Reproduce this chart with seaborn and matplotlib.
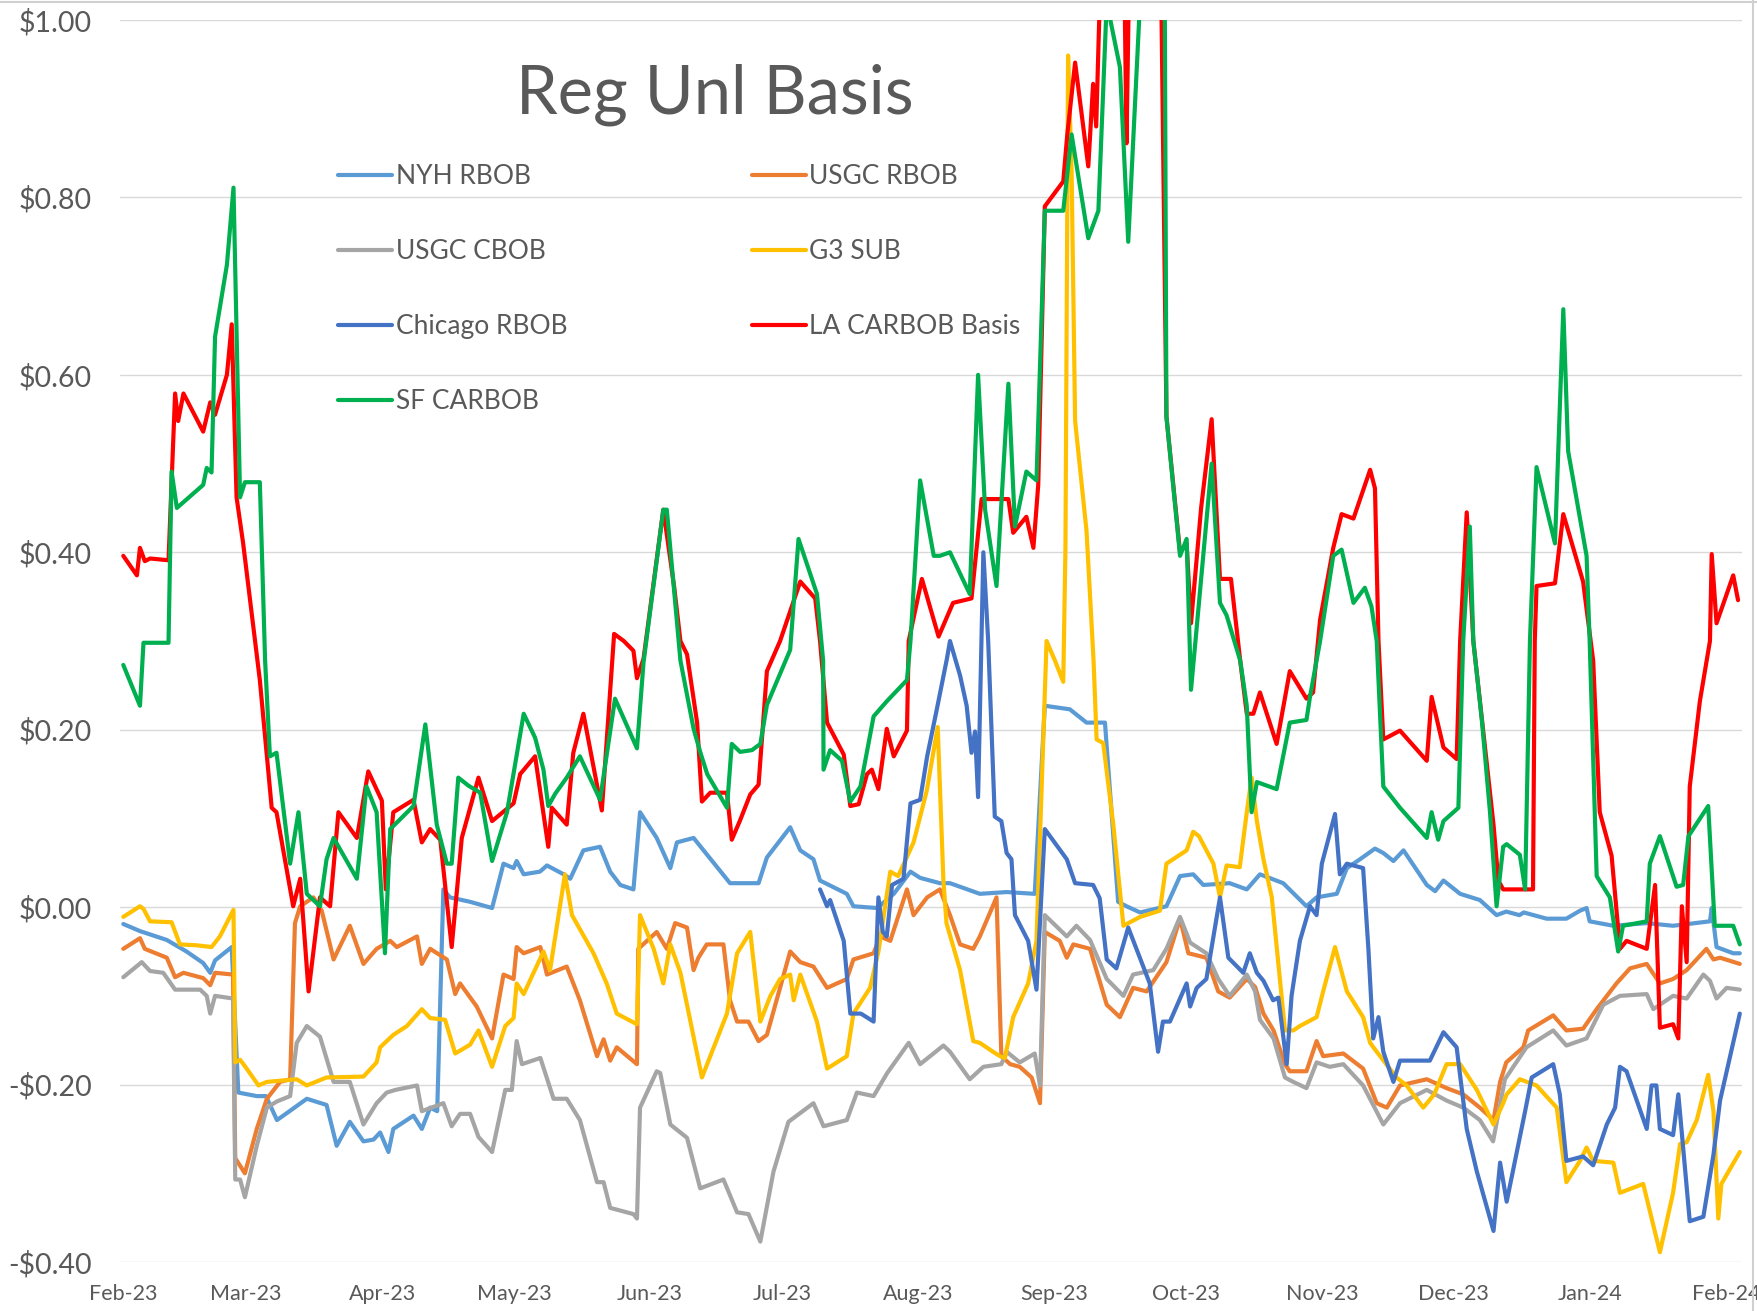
import numpy as np
import pandas as pd
import matplotlib
matplotlib.use("Agg")
import matplotlib.pyplot as plt
import matplotlib.dates as mdates
from matplotlib.lines import Line2D
from matplotlib.ticker import FuncFormatter
import seaborn as sns

START = "2023-02-01"
series_names = ["NYH RBOB", "USGC RBOB", "USGC CBOB", "G3 SUB",
                "Chicago RBOB", "LA CARBOB Basis", "SF CARBOB"]
series_colors = ["#5B9BD5", "#ED7D31", "#A5A5A5", "#FFC000",
                 "#4472C4", "#FF0000", "#00B050"]
title_text = "Reg Unl Basis"

# days since 2023-02-01 / basis value in $/gal
nyh_days = [0, 3.8, 9.9, 14.4, 18.2, 19.8, 20.9, 24.7, 26.2, 30.4,
            32.5, 35, 37.3, 41.8, 46.3, 48.6, 51.6, 54.7, 57, 58.5,
            60.4, 61.5, 66.1, 68, 69.9, 71.5, 72.9, 74.4, 79, 84,
            86.6, 88.9, 89.6, 91.2, 94.9, 96.5, 100.3, 101.8, 104.8, 108.6,
            110.9, 113.2, 116.2, 117.7, 121.5, 124.6, 126.1, 129.9, 138.2, 144.7,
            146.6, 151.9, 154.2, 157.2, 158.7, 164.8, 166.3, 171.7, 175.5, 179.3,
            181.5, 186, 188.3, 195.1, 201.2, 207.6, 209.9, 215.6, 219.4, 223.6,
            226.6, 228.5, 231.6, 237.6, 240.7, 243.7, 246, 252, 255.9, 258.9,
            264.2, 269.5, 271.8, 276.4, 278.7, 281.7, 285.1, 287, 289.3, 291.6,
            296.9, 298.8, 300.7, 304.5, 309, 312.8, 315, 318, 319, 324.2,
            328.7, 331.8, 333.3, 334, 339.4, 347, 353, 361.4, 361.8, 362.9,
            366.7, 368.2]
nyh_vals = [-0.019, -0.027, -0.037, -0.050, -0.063, -0.074, -0.060, -0.045, -0.209, -0.213,
            -0.213, -0.240, -0.232, -0.216, -0.223, -0.269, -0.242, -0.264, -0.262, -0.254,
            -0.276, -0.250, -0.235, -0.250, -0.226, -0.230, 0.020, 0.011, 0.006, -0.001,
            0.049, 0.044, 0.052, 0.037, 0.040, 0.047, 0.037, 0.032, 0.064, 0.068,
            0.040, 0.025, 0.020, 0.107, 0.078, 0.044, 0.073, 0.078, 0.027, 0.027,
            0.056, 0.090, 0.064, 0.054, 0.030, 0.015, 0.001, -0.001, 0.015, 0.040,
            0.033, 0.027, 0.027, 0.015, 0.017, 0.015, 0.227, 0.223, 0.208, 0.208,
            0.006, 0.001, -0.006, 0.001, 0.035, 0.037, 0.025, 0.027, 0.020, 0.037,
            0.027, 0.001, 0.011, 0.015, 0.044, 0.054, 0.066, 0.061, 0.052, 0.064,
            0.025, 0.018, 0.030, 0.015, 0.008, -0.009, -0.005, -0.009, -0.006, -0.013,
            -0.013, -0.004, -0.001, -0.016, -0.021, -0.018, -0.021, -0.016, -0.001, -0.045,
            -0.052, -0.052]

usgc_rbob_days = [0, 3.8, 4.9, 9.9, 11.8, 13.7, 18.2, 19.8, 20.9, 25,
                  25.5, 27.7, 30.4, 32.7, 35.7, 38, 39.1, 40.3, 43.3, 45.2,
                  47.9, 51.6, 54.7, 57.7, 60.8, 62.3, 66.9, 68, 69.9, 73.7,
                  75.6, 76.7, 80.5, 84, 86.6, 88.9, 89.6, 91.2, 95, 96.5,
                  101, 104, 107.9, 109.4, 110.9, 112.4, 117, 117.3, 121.5, 123.8,
                  125.7, 128.4, 129.9, 131, 132.9, 136.7, 138.2, 139.8, 142.4, 144.7,
                  146.6, 151.9, 154.2, 157.2, 160.3, 164.8, 166.3, 170.9, 172.4, 174.7,
                  178.5, 180, 183.1, 186, 188.3, 190.6, 193.6, 195.1, 198.9, 200,
                  202, 204.2, 206.9, 208.8, 209.9, 213.3, 214.9, 216.4, 220.2, 224,
                  227, 230, 233.1, 237.6, 240.7, 242.6, 246.7, 249.4, 252, 255.9,
                  257.8, 259.7, 262, 264.6, 265.7, 269.5, 271.8, 273.3, 277.9, 282.4,
                  285.5, 287.8, 290.8, 296.9, 301.4, 305.2, 309, 312.1, 313.6, 315,
                  318.9, 320, 325.7, 328.7, 332.5, 335.6, 340.1, 343.2, 347, 350,
                  353, 356.1, 360.6, 362.2, 363.7, 368.2]
usgc_rbob_vals = [-0.047, -0.035, -0.047, -0.057, -0.079, -0.074, -0.080, -0.088, -0.074, -0.076,
                  -0.283, -0.300, -0.250, -0.216, -0.197, -0.194, -0.018, 0.001, 0.011, -0.004,
                  -0.059, -0.021, -0.064, -0.047, -0.038, -0.045, -0.033, -0.064, -0.047, -0.059,
                  -0.098, -0.086, -0.112, -0.148, -0.076, -0.081, -0.045, -0.052, -0.045, -0.076,
                  -0.067, -0.105, -0.168, -0.149, -0.173, -0.158, -0.177, -0.047, -0.028, -0.047,
                  -0.018, -0.023, -0.071, -0.057, -0.042, -0.042, -0.105, -0.129, -0.129, -0.151,
                  -0.144, -0.050, -0.062, -0.067, -0.091, -0.081, -0.059, -0.052, -0.033, -0.038,
                  0.020, -0.009, 0.011, 0.020, -0.009, -0.042, -0.047, -0.033, 0.011, -0.168,
                  -0.177, -0.180, -0.192, -0.221, -0.028, -0.038, -0.057, -0.042, -0.047, -0.110,
                  -0.124, -0.091, -0.095, -0.062, -0.013, -0.052, -0.057, -0.095, -0.102, -0.081,
                  -0.090, -0.120, -0.139, -0.177, -0.185, -0.185, -0.151, -0.168, -0.165, -0.182,
                  -0.221, -0.226, -0.201, -0.194, -0.204, -0.211, -0.226, -0.240, -0.197, -0.175,
                  -0.158, -0.139, -0.122, -0.139, -0.137, -0.115, -0.086, -0.069, -0.064, -0.086,
                  -0.081, -0.071, -0.047, -0.059, -0.057, -0.064]

usgc_cbob_days = [0, 4.2, 6.1, 9.1, 11.8, 17.5, 19, 19.8, 20.9, 25,
                  25.5, 26.6, 27.7, 30.4, 32.7, 35, 38, 39.5, 41.8, 44.8,
                  47.9, 51.6, 54.7, 57.7, 60, 62, 66.9, 68, 72.9, 74.8,
                  76.7, 79, 80.9, 84, 87, 88.5, 89.6, 90.8, 95, 98,
                  101, 104, 107.9, 109.4, 110.9, 116.2, 117, 117.7, 121.5, 122.3,
                  124.6, 128.4, 131.4, 136.7, 139.8, 142.4, 145.1, 148.1, 151.5, 157.2,
                  159.5, 164.8, 167.1, 170.9, 174, 178.9, 181.5, 186.8, 188.3, 192.8,
                  195.9, 200, 201.2, 204.2, 207.6, 208.8, 209.9, 214.9, 217.1, 220.2,
                  224, 227.8, 230, 234.6, 237.6, 240.7, 243, 246.7, 249.4, 252,
                  255.9, 257.8, 258.9, 262, 264.6, 266.5, 269.5, 271.8, 274.8, 277.9,
                  282.4, 287, 290.8, 296.9, 301.4, 305.2, 309, 312, 314.7, 319.6,
                  325.7, 328.7, 333.3, 337.1, 340.9, 347, 348.5, 353, 356.1, 359.9,
                  361.4, 362.9, 365.2, 368.2]
usgc_cbob_vals = [-0.079, -0.062, -0.072, -0.074, -0.093, -0.093, -0.100, -0.120, -0.100, -0.103,
                  -0.307, -0.307, -0.327, -0.269, -0.226, -0.219, -0.213, -0.153, -0.134, -0.146,
                  -0.197, -0.197, -0.245, -0.221, -0.209, -0.206, -0.201, -0.230, -0.221, -0.247,
                  -0.233, -0.233, -0.259, -0.276, -0.206, -0.206, -0.151, -0.177, -0.170, -0.216,
                  -0.216, -0.240, -0.310, -0.310, -0.339, -0.346, -0.351, -0.226, -0.185, -0.187,
                  -0.245, -0.260, -0.317, -0.307, -0.344, -0.346, -0.377, -0.298, -0.242, -0.221,
                  -0.247, -0.240, -0.209, -0.213, -0.187, -0.153, -0.177, -0.156, -0.163, -0.194,
                  -0.180, -0.177, -0.163, -0.175, -0.165, -0.201, -0.009, -0.033, -0.021, -0.037,
                  -0.081, -0.100, -0.076, -0.071, -0.047, -0.011, -0.040, -0.052, -0.081, -0.100,
                  -0.076, -0.095, -0.127, -0.148, -0.192, -0.197, -0.204, -0.175, -0.180, -0.177,
                  -0.201, -0.245, -0.221, -0.206, -0.218, -0.226, -0.240, -0.264, -0.194, -0.158,
                  -0.139, -0.156, -0.148, -0.110, -0.100, -0.098, -0.115, -0.100, -0.103, -0.076,
                  -0.083, -0.103, -0.091, -0.093]

g3_days = [0, 3.8, 4.6, 6.1, 11, 12.9, 16.7, 20.1, 22, 25.1,
           25.5, 26.6, 28.1, 30.8, 32.7, 39.5, 41.8, 46.3, 54.7, 57.7,
           58.5, 61.5, 64.6, 68, 69.9, 73.3, 75.6, 79, 80.9, 84,
           87, 88.9, 89.6, 91.2, 95.7, 97.2, 100.6, 102.2, 107.1, 110.1,
           112.4, 117, 117.7, 120.8, 123, 124.6, 126.9, 131.8, 137.5, 139.8,
           142.8, 145.1, 147.4, 149.6, 151.9, 152.7, 154.2, 158, 160.3, 164.8,
           166.3, 170.1, 172, 174.7, 176.5, 180, 183, 185.5, 186.8, 187.5,
           190.6, 193.6, 195.1, 198.1, 199.7, 200.8, 202.7, 206.1, 208, 210.3,
           212.2, 214.1, 214.6, 215.2, 216, 216.8, 219.4, 221, 221.7, 223.2,
           225.5, 227.8, 231.6, 236.1, 237.6, 242.2, 243.7, 245, 248.3, 249.8,
           251.3, 254.3, 255.9, 257, 258.2, 259.7, 261.6, 264.6, 266.5, 268,
           271.8, 273.3, 276, 278.7, 282.4, 284, 285.5, 290, 292.3, 296.1,
           298.6, 301.4, 304.5, 308.3, 312.1, 314.3, 315.1, 318.1, 321.9, 326.5,
           328.7, 331.8, 333.3, 334.8, 339.4, 340.9, 346.2, 350, 353, 354.6,
           356.1, 358.4, 361, 362.2, 363.3, 364, 368.2]
g3_vals = [-0.011, 0.001, -0.002, -0.016, -0.017, -0.042, -0.043, -0.045, -0.033, -0.003,
           -0.175, -0.172, -0.182, -0.201, -0.197, -0.194, -0.201, -0.192, -0.191, -0.175,
           -0.158, -0.144, -0.134, -0.115, -0.125, -0.127, -0.165, -0.155, -0.139, -0.180,
           -0.134, -0.125, -0.086, -0.098, -0.050, -0.071, 0.037, -0.009, -0.052, -0.086,
           -0.120, -0.132, -0.009, -0.047, -0.086, -0.042, -0.074, -0.192, -0.120, -0.052,
           -0.028, -0.129, -0.100, -0.081, -0.076, -0.105, -0.076, -0.129, -0.182, -0.168,
           -0.120, -0.091, -0.050, 0.040, 0.035, 0.073, 0.131, 0.203, 0.030, -0.018,
           -0.071, -0.151, -0.153, -0.163, -0.168, -0.170, -0.124, -0.086, -0.038, 0.300,
           0.278, 0.254, 0.405, 0.960, 0.830, 0.548, 0.424, 0.278, 0.189, 0.185,
           0.093, -0.021, -0.011, -0.004, 0.049, 0.064, 0.085, 0.080, 0.049, 0.011,
           0.047, 0.045, 0.107, 0.146, 0.097, 0.054, 0.011, -0.139, -0.139, -0.134,
           -0.124, -0.095, -0.045, -0.095, -0.124, -0.153, -0.163, -0.192, -0.201, -0.226,
           -0.211, -0.177, -0.177, -0.206, -0.245, -0.221, -0.211, -0.194, -0.201, -0.226,
           -0.310, -0.286, -0.271, -0.286, -0.288, -0.322, -0.312, -0.389, -0.322, -0.267,
           -0.265, -0.240, -0.189, -0.230, -0.351, -0.312, -0.276]

chicago_days = [158.7, 160.3, 161, 164.1, 165.6, 168, 170.9, 172, 173, 173.9,
                175.1, 177.7, 179.3, 181.5, 183.1, 185.3, 187.6, 188.3, 190.6, 192.1,
                193.2, 194, 194.7, 195.9, 197, 198.5, 200, 201.2, 202.3, 203.1,
                206.1, 208, 209.9, 214.9, 216.8, 220.9, 222.4, 224, 226.2, 228.9,
                233.8, 235.7, 236.8, 238.4, 242.2, 243, 244.5, 246.7, 249.8, 251.7,
                255.1, 256.6, 258.2, 259.7, 261.9, 263.1, 265, 266.1, 268, 270.3,
                271.8, 273, 276, 277.1, 278.7, 282.4, 283.6, 284.7, 285.9, 287,
                289.3, 290.8, 297.6, 300.7, 303.7, 306, 308.3, 312.1, 313.6, 315.1,
                319.3, 320.8, 325.7, 327.2, 328.7, 332.5, 334.8, 337.9, 339.8, 340.9,
                342.4, 347, 348.1, 349.2, 350, 353, 354.2, 356.8, 359.9, 362.2,
                363.7, 368.2]
chicago_vals = [0.020, 0.001, 0.008, -0.038, -0.120, -0.120, -0.129, 0.011, -0.028, -0.033,
                0.025, 0.032, 0.117, 0.121, 0.170, 0.223, 0.280, 0.300, 0.261, 0.227,
                0.174, 0.198, 0.124, 0.400, 0.300, 0.102, 0.097, 0.061, 0.054, -0.009,
                -0.038, -0.093, 0.088, 0.054, 0.027, 0.025, 0.010, -0.059, -0.069, -0.023,
                -0.086, -0.163, -0.129, -0.129, -0.086, -0.112, -0.091, -0.081, 0.011, -0.057,
                -0.074, -0.052, -0.074, -0.083, -0.105, -0.102, -0.177, -0.100, -0.038, 0.001,
                -0.009, 0.049, 0.105, 0.037, 0.049, 0.044, -0.047, -0.148, -0.124, -0.163,
                -0.197, -0.173, -0.173, -0.141, -0.158, -0.250, -0.298, -0.365, -0.288, -0.332,
                -0.230, -0.192, -0.177, -0.211, -0.286, -0.281, -0.291, -0.245, -0.226, -0.180,
                -0.185, -0.250, -0.201, -0.201, -0.250, -0.257, -0.211, -0.354, -0.349, -0.279,
                -0.218, -0.120]

la_days = [0, 3.1, 3.8, 4.9, 6.1, 10.3, 11.8, 12.5, 13.7, 18.2,
           19.8, 20.9, 23.6, 24.7, 25.8, 27.3, 31.1, 33.8, 34.9, 38.7,
           40.3, 42.2, 44.8, 47.1, 49, 53.2, 55.8, 58.9, 59.8, 61.5,
           66.1, 68, 69.9, 72.2, 74.8, 77.1, 80.9, 84, 88.9, 90.4,
           93.8, 96.8, 97.6, 101, 102.5, 104.8, 109, 111.8, 114, 116.2,
           117, 118.5, 123, 125.5, 126.9, 128.4, 130.7, 131.8, 133.7, 137.5,
           138.6, 140.5, 142.8, 144.7, 146.6, 149.6, 154.2, 157.6, 158.7, 160.3,
           164.1, 165.6, 167.5, 169.4, 170.5, 172, 173.9, 175.5, 178.5, 178.9,
           181.9, 185.7, 189, 193.2, 195.5, 201.6, 202.7, 205.7, 207.3, 208.4,
           209.9, 214.1, 215, 216.8, 219.8, 220.9, 221.6, 222.4, 225, 228.1,
           228.5, 229.1, 231, 236, 237.6, 240.7, 242.2, 243.2, 245.5, 247.9,
           249.8, 252.3, 254.4, 255.9, 257.4, 258.9, 262.7, 265.7, 269.5, 271,
           272.6, 275.6, 277.5, 280.2, 284, 285.1, 285.9, 287, 290.8, 296.9,
           298, 300.7, 303.7, 304.5, 306, 307.5, 312.1, 313.2, 314.3, 321.1,
           321.5, 321.9, 326.1, 328, 332.5, 334.8, 336.3, 339, 340.9, 342.4,
           347, 348.9, 350, 353, 354.2, 355, 356.1, 356.8, 359.1, 361.4,
           361.8, 362.9, 366.7, 367.8]
la_vals = [0.396, 0.374, 0.405, 0.390, 0.393, 0.391, 0.579, 0.548, 0.579, 0.536,
           0.569, 0.555, 0.600, 0.657, 0.462, 0.410, 0.256, 0.112, 0.107, 0.001,
           0.032, -0.095, 0.011, 0.001, 0.107, 0.078, 0.153, 0.120, 0.020, 0.107,
           0.121, 0.073, 0.088, 0.076, -0.045, 0.078, 0.146, 0.097, 0.117, 0.150,
           0.170, 0.068, 0.112, 0.093, 0.174, 0.218, 0.109, 0.308, 0.300, 0.289,
           0.258, 0.280, 0.448, 0.360, 0.300, 0.285, 0.208, 0.119, 0.129, 0.129,
           0.076, 0.098, 0.127, 0.138, 0.266, 0.300, 0.367, 0.348, 0.300, 0.208,
           0.172, 0.114, 0.116, 0.150, 0.155, 0.133, 0.201, 0.170, 0.199, 0.300,
           0.370, 0.305, 0.343, 0.348, 0.460, 0.460, 0.422, 0.440, 0.405, 0.476,
           0.790, 0.818, 0.870, 0.952, 0.835, 0.928, 0.880, 1.020, 1.100, 1.020,
           0.861, 1.050, 1.200, 1.200, 0.553, 0.400, 0.410, 0.320, 0.450, 0.550,
           0.370, 0.370, 0.278, 0.218, 0.218, 0.242, 0.184, 0.266, 0.235, 0.242,
           0.324, 0.405, 0.443, 0.438, 0.493, 0.472, 0.300, 0.189, 0.199, 0.165,
           0.237, 0.180, 0.167, 0.300, 0.445, 0.300, 0.093, 0.030, 0.020, 0.020,
           0.300, 0.362, 0.365, 0.443, 0.367, 0.278, 0.107, 0.058, -0.047, -0.038,
           -0.047, 0.025, -0.136, -0.132, -0.148, 0.001, -0.062, 0.136, 0.232, 0.300,
           0.398, 0.320, 0.374, 0.346]

sf_days = [0, 3.8, 4.6, 10.3, 11, 12.2, 18.2, 19, 20.1, 20.9,
           23.6, 25.1, 26.6, 27.7, 31.1, 32.3, 33.4, 34.9, 38, 39.9,
           41.8, 44.8, 46.3, 47.9, 53.2, 55.4, 57.7, 59.6, 60.8, 66.1,
           68.8, 71.4, 73.7, 74.8, 76.3, 78.6, 81.3, 84, 87.4, 91.2,
           93.8, 95.7, 96.8, 98.4, 101, 104, 108.6, 112, 117, 118.5,
           123, 123.8, 126.9, 129.9, 131.4, 133, 137.5, 138.6, 140.5, 143.2,
           145.1, 146.6, 151.9, 153.8, 158, 159.4, 159.5, 161, 163.7, 165.6,
           167.9, 170.9, 173.9, 178.5, 179.3, 181.5, 184.6, 186, 188.3, 192.8,
           194.7, 196.3, 198.9, 201.6, 203.1, 205.7, 208, 209.9, 214.1, 216,
           219.8, 222.1, 224, 227, 228.9, 231.6, 233, 237, 237.6, 240.7,
           242.2, 243.2, 247.9, 249.8, 251.3, 254.4, 255.9, 257, 258.2, 262.7,
           265.7, 269.5, 270.3, 272.6, 275.6, 277.5, 280.2, 282.8, 284.3, 285.5,
           287, 290.8, 296.9, 298, 299.5, 300.7, 304.1, 305.2, 306.7, 307.5,
           309.5, 311.3, 312.8, 314.3, 315.1, 318.1, 319.3, 320.4, 321.9, 326.1,
           328, 329.1, 333.3, 334, 335.6, 338.6, 340.5, 341.6, 347, 347.7,
           350, 353.8, 355.3, 356.5, 361, 362.5, 366.7, 368.2]
sf_vals = [0.273, 0.227, 0.298, 0.298, 0.491, 0.450, 0.476, 0.495, 0.490, 0.643,
           0.724, 0.811, 0.462, 0.479, 0.479, 0.278, 0.170, 0.174, 0.049, 0.107,
           0.015, 0.001, 0.054, 0.078, 0.032, 0.136, 0.107, -0.052, 0.088, 0.114,
           0.206, 0.093, 0.049, 0.049, 0.146, 0.137, 0.129, 0.052, 0.107, 0.218,
           0.191, 0.155, 0.114, 0.128, 0.146, 0.170, 0.121, 0.235, 0.179, 0.276,
           0.448, 0.448, 0.278, 0.201, 0.175, 0.150, 0.112, 0.184, 0.175, 0.177,
           0.184, 0.228, 0.290, 0.415, 0.353, 0.278, 0.155, 0.177, 0.165, 0.119,
           0.136, 0.215, 0.232, 0.256, 0.300, 0.481, 0.396, 0.396, 0.400, 0.353,
           0.600, 0.448, 0.362, 0.590, 0.429, 0.491, 0.481, 0.785, 0.785, 0.871,
           0.754, 0.785, 1.020, 0.947, 0.750, 1.020, 1.300, 1.300, 0.553, 0.396,
           0.415, 0.245, 0.500, 0.343, 0.329, 0.278, 0.227, 0.107, 0.141, 0.133,
           0.208, 0.211, 0.237, 0.300, 0.396, 0.403, 0.343, 0.360, 0.339, 0.300,
           0.136, 0.112, 0.078, 0.107, 0.076, 0.097, 0.112, 0.300, 0.429, 0.300,
           0.208, 0.107, 0.001, 0.068, 0.071, 0.059, 0.020, 0.300, 0.496, 0.410,
           0.674, 0.514, 0.396, 0.300, 0.035, 0.011, -0.050, -0.021, -0.016, 0.049,
           0.080, 0.023, 0.025, 0.080, 0.114, -0.021, -0.021, -0.042]

all_days = [nyh_days, usgc_rbob_days, usgc_cbob_days, g3_days, chicago_days, la_days, sf_days]
all_vals = [nyh_vals, usgc_rbob_vals, usgc_cbob_vals, g3_vals, chicago_vals, la_vals, sf_vals]

base = pd.Timestamp(START)
frames = []
for name, d, v in zip(series_names, all_days, all_vals):
    if len(d) != len(v):
        raise ValueError(f"{name}: {len(d)} days vs {len(v)} values")
    frames.append(pd.DataFrame({
        "date": base + pd.to_timedelta(np.array(d, dtype=float), unit="D"),
        "value": v,
        "series": name,
    }))
df = pd.concat(frames, ignore_index=True)

sns.set_theme(style="white")
plt.rcParams["font.family"] = ["Lato", "DejaVu Sans"]

W, H = 1757, 1311
fig = plt.figure(figsize=(W / 100, H / 100), dpi=100)
ax = fig.add_axes([120 / W, 1 - 1262 / H, (1742 - 120) / W, (1262 - 20) / H])

sns.lineplot(data=df, x="date", y="value", hue="series", hue_order=series_names,
             palette=series_colors, linewidth=3.0, estimator=None, errorbar=None,
             legend=False, ax=ax)

ax.set_ylim(-0.40, 1.00)
ax.set_xlim(base + pd.Timedelta(days=-0.75), base + pd.Timedelta(days=368.7))
ax.set_yticks([round(x, 2) for x in np.arange(-0.4, 1.01, 0.2)])
ax.yaxis.set_major_formatter(FuncFormatter(
    lambda v, p: f"${v:.2f}" if v >= -1e-9 else f"-${-v:.2f}"))
ax.set_xticks(pd.date_range("2023-02-01", "2024-02-01", freq="MS"))
ax.xaxis.set_major_formatter(mdates.DateFormatter("%b-%y"))
ax.set_xlabel("")
ax.set_ylabel("")
ax.grid(axis="y", color="#D9D9D9", linewidth=1.0)
ax.grid(axis="x", visible=False)
for s in ax.spines.values():
    s.set_visible(False)
ax.tick_params(axis="y", length=0, pad=20, labelsize=20.5, labelcolor="#595959")
ax.tick_params(axis="x", length=0, pad=16, labelsize=15.5, labelcolor="#595959")

fig.text(715 / W, 1 - 95 / H, title_text, ha="center", va="center",
         fontsize=48, color="#595959")

handles = {n: Line2D([0], [0], color=c, linewidth=3.0) for n, c in zip(series_names, series_colors)}
order = ["NYH RBOB", "USGC CBOB", "Chicago RBOB", "SF CARBOB",
         "USGC RBOB", "G3 SUB", "LA CARBOB Basis"]
leg = fig.legend([handles[n] for n in order], order, ncol=2, loc="upper left",
                 bbox_to_anchor=(338 / W, 1 - 164 / H), bbox_transform=fig.transFigure,
                 frameon=False, fontsize=19, handlelength=2.05, handletextpad=0.13,
                 columnspacing=7.0, labelspacing=1.9, borderpad=0, borderaxespad=0)
for t in leg.get_texts():
    t.set_color("#595959")

# chart border (top/right edges visible in the reference)
fig.add_artist(Line2D([0, 1], [1 - 1.5 / H, 1 - 1.5 / H], transform=fig.transFigure,
                      color="#D0D0D0", linewidth=1.5))
fig.add_artist(Line2D([1 - 4 / W, 1 - 4 / W], [0, 1], transform=fig.transFigure,
                      color="#D0D0D0", linewidth=1.5))

fig.savefig("out.png", dpi=100, facecolor="white")
